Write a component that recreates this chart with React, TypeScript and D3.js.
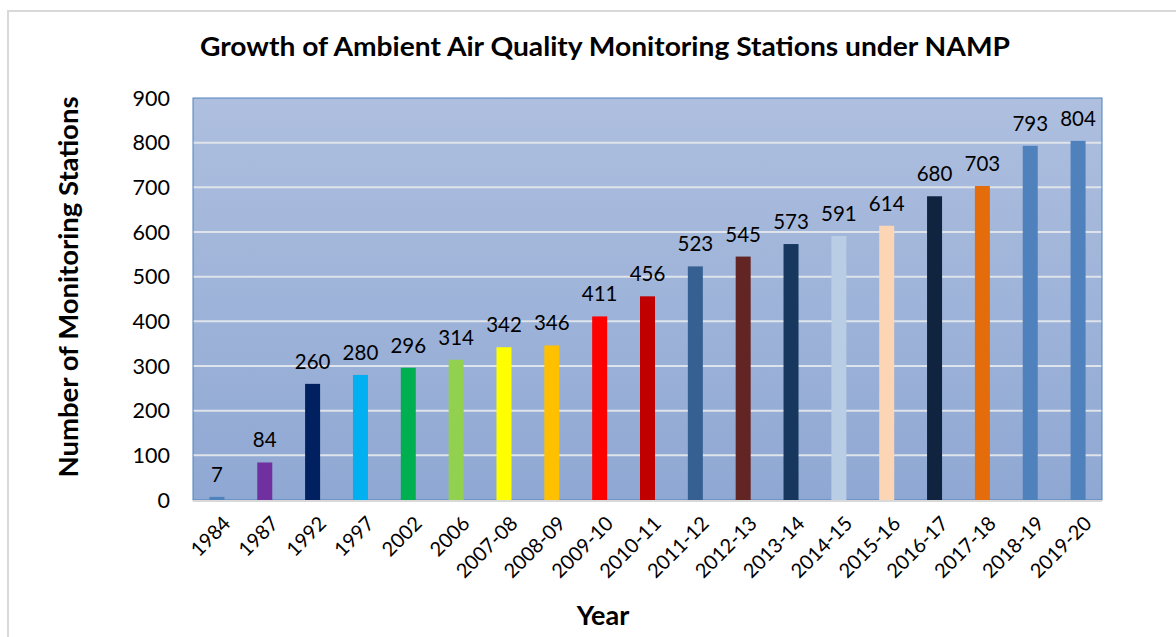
import React from "react";
import * as d3 from "d3";

const categories = ["1984","1987","1992","1997","2002","2006","2007-08","2008-09","2009-10","2010-11","2011-12","2012-13","2013-14","2014-15","2015-16","2016-17","2017-18","2018-19","2019-20"];
const values = [7,84,260,280,296,314,342,346,411,456,523,545,573,591,614,680,703,793,804];
const barColors = ["#4f81bd","#7030a0","#002060","#00b0f0","#00b050","#92d050","#ffff00","#ffc000","#ff0000","#c00000","#376092","#632523","#17375e","#b9cde5","#fcd5b5","#10243f","#e46c0a","#4f81bd","#4f81bd"];
const yTicks = [0,100,200,300,400,500,600,700,800,900];

const W = 1176, H = 637;
const left = 193, right = 1102, top = 98, bottom = 500;
const FONT = "Lato, 'Open Sans', sans-serif";

export default function App() {
  const x = d3.scaleBand<string>().domain(categories).range([left, right]).paddingInner(0).paddingOuter(0);
  const y = d3.scaleLinear().domain([0, 900]).range([bottom, top]);
  const bw = 15;
  return (
    <svg width={W} height={H} style={{ position: "absolute", left: 0, top: 0, background: "#fff" }}>
      <defs>
        <linearGradient id="bg" x1="0" y1="0" x2="0" y2="1">
          <stop offset="0" stopColor="#aebfdf" />
          <stop offset="1" stopColor="#8fa8d3" />
        </linearGradient>
      </defs>
      <rect x={8} y={11} width={1300} height={800} fill="#fff" stroke="#d9d9d9" strokeWidth={2} />
      <text x={605} y={56} textAnchor="middle" fontFamily={FONT} fontWeight="bold" fontSize={26} textLength={810} lengthAdjust="spacingAndGlyphs" fill="#000">
        Growth of Ambient Air Quality Monitoring Stations under NAMP
      </text>
      <rect x={left} y={top} width={right - left} height={bottom - top} fill="url(#bg)" />
      {yTicks.filter(t => t > 0 && t < 900).map(t => (
        <line key={t} x1={left} x2={right} y1={y(t)} y2={y(t)} stroke="#dfe3ea" strokeWidth={2} />
      ))}
      <rect x={left} y={top} width={right - left} height={bottom - top} fill="none" stroke="#4f81bd" strokeWidth={1} />
      <line x1={left} x2={right} y1={bottom + 1} y2={bottom + 1} stroke="#d9d9d9" strokeWidth={2} />
      {yTicks.map(t => (
        <text key={t} x={170} y={y(t) + 7.5} textAnchor="end" fontFamily={FONT} fontSize={21.5} fill="#000">{t}</text>
      ))}
      {categories.map((c, i) => {
        const cx = (x(c) as number) + x.bandwidth() / 2;
        return (
          <g key={c}>
            <rect x={cx - bw / 2} y={y(values[i])} width={bw} height={bottom - y(values[i])} fill={barColors[i]} />
            <text x={cx} y={y(values[i]) - 15} textAnchor="middle" fontFamily={FONT} fontSize={20.5} fill="#000">{values[i]}</text>
            <text transform={`translate(${cx + 5},${515}) rotate(-45)`} textAnchor="end" dy="0.7em" fontFamily={FONT} fontSize={20} fill="#000">{c}</text>
          </g>
        );
      })}
      <text transform={`translate(78,287) rotate(-90)`} textAnchor="middle" fontFamily={FONT} fontWeight="bold" fontSize={26} textLength={381} lengthAdjust="spacingAndGlyphs" fill="#000">
        Number of Monitoring Stations
      </text>
      <text x={603} y={625} textAnchor="middle" fontFamily={FONT} fontWeight="bold" fontSize={27} fill="#000">Year</text>
    </svg>
  );
}
